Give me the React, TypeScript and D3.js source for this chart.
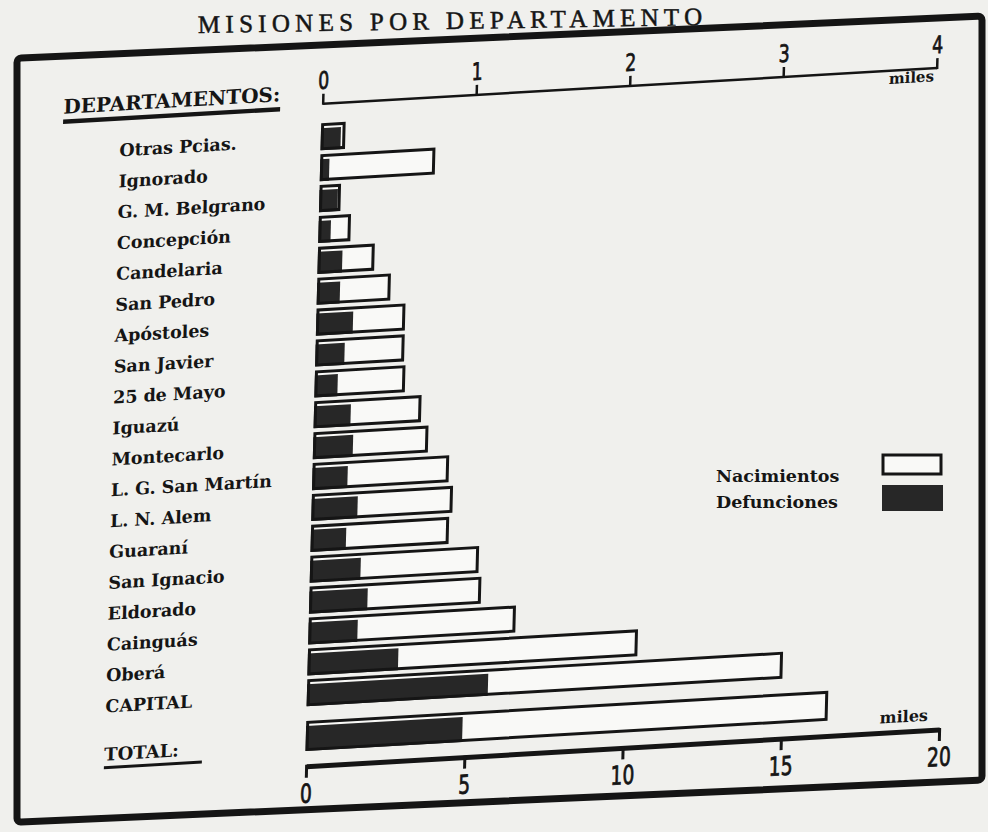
import { useEffect, useRef } from 'react';
import * as d3 from 'd3';

// Departamentos (de arriba hacia abajo) y valores en miles
const departamentos = [
  'Otras Pcias.', 'Ignorado', 'G. M. Belgrano', 'Concepción', 'Candelaria',
  'San Pedro', 'Apóstoles', 'San Javier', '25 de Mayo', 'Iguazú', 'Montecarlo',
  'L. G. San Martín', 'L. N. Alem', 'Guaraní', 'San Ignacio', 'Eldorado',
  'Cainguás', 'Oberá', 'CAPITAL',
];
const nacimientos = [
  0.14, 0.73, 0.12, 0.19, 0.35, 0.46, 0.56, 0.56, 0.57, 0.68, 0.73,
  0.87, 0.9, 0.88, 1.08, 1.1, 1.33, 2.13, 3.08,
];
const defunciones = [
  0.12, 0.05, 0.11, 0.07, 0.15, 0.14, 0.23, 0.18, 0.14, 0.23, 0.25,
  0.22, 0.29, 0.22, 0.32, 0.37, 0.31, 0.58, 1.17,
];
const totalNacimientos = 16.4;
const totalDefunciones = 4.9;

const ticksArriba = [0, 1, 2, 3, 4];
const ticksAbajo = [0, 5, 10, 15, 20];
const leyenda = ['Nacimientos', 'Defunciones'];

export default function App() {
  const svgRef = useRef<SVGSVGElement>(null);

  useEffect(() => {
    if (!svgRef.current) return;
    const width = 988;
    const height = 832;

    const svg = d3.select(svgRef.current);
    svg.selectAll('*').remove();

    const paper = '#f0f0ed';
    const blanco = '#f9f9f7';
    const ink = '#151515';
    const dark = '#272727';
    const serif = '"DejaVu Serif", serif';

    svg.append('rect').attr('width', width).attr('height', height).attr('fill', paper);

    // Título (cortado en la foto)
    svg.append('text')
      .attr('x', 198)
      .attr('y', 33)
      .attr('transform', 'rotate(-0.9 198 33)')
      .attr('font-family', '"Liberation Serif", serif')
      .attr('font-size', 25)
      .attr('letter-spacing', 5.3)
      .attr('fill', ink)
      .attr('stroke', ink)
      .attr('stroke-width', 0.5)
      .text('MISIONES POR DEPARTAMENTO');

    // Marco
    svg.append('g')
      .attr('transform', 'skewY(-2.5)')
      .append('rect')
      .attr('x', 17)
      .attr('y', 59)
      .attr('width', 965)
      .attr('height', 764)
      .attr('rx', 4)
      .attr('fill', 'none')
      .attr('stroke', ink)
      .attr('stroke-width', 7);

    // El gráfico va inclinado como en la foto
    const g = svg.append('g')
      .attr('transform', 'matrix(1,-0.058,-0.025,1,10.5,29)');

    const xTop = d3.scaleLinear().domain([0, 4]).range([315, 929]);
    const xBot = d3.scaleLinear().domain([0, 20]).range([315, 948]);
    const y = d3.scalePoint<string>().domain(departamentos).range([126, 682]);
    const bh = y.step() * 0.78;
    const yTotal = (y('CAPITAL') as number) + y.step() * 1.4;

    // Eje superior (miles)
    const axTopY = 93;
    g.append('line')
      .attr('x1', xTop(0)).attr('x2', xTop(4))
      .attr('y1', axTopY).attr('y2', axTopY)
      .attr('stroke', ink).attr('stroke-width', 2.5);
    g.selectAll('.tickTop')
      .data(ticksArriba)
      .enter()
      .append('line')
      .attr('x1', d => xTop(d)).attr('x2', d => xTop(d))
      .attr('y1', axTopY + 1).attr('y2', axTopY - 10)
      .attr('stroke', ink).attr('stroke-width', 2.5);
    g.selectAll('.lblTop')
      .data(ticksArriba)
      .enter()
      .append('g')
      .attr('transform', d => `translate(${xTop(d)},${axTopY - 15}) scale(0.72,1)`)
      .append('text')
      .attr('text-anchor', 'middle')
      .attr('font-family', '"DejaVu Sans", sans-serif')
      .attr('font-size', 24)
      .attr('fill', ink)
      .attr('stroke', ink)
      .attr('stroke-width', 0.8)
      .text(d => d);
    g.append('text')
      .attr('x', xTop(4) - 3)
      .attr('y', axTopY + 13)
      .attr('text-anchor', 'end')
      .attr('font-family', serif)
      .attr('font-weight', 'bold')
      .attr('font-size', 15)
      .attr('fill', ink)
      .text('miles');

    // Encabezado de la columna
    g.append('text')
      .attr('x', 55)
      .attr('y', 88)
      .attr('font-family', serif)
      .attr('font-weight', 'bold')
      .attr('font-size', 20)
      .attr('fill', ink)
      .text('DEPARTAMENTOS:');
    g.append('line')
      .attr('x1', 55).attr('x2', 272)
      .attr('y1', 96).attr('y2', 96)
      .attr('stroke', ink).attr('stroke-width', 4.5);

    // Etiquetas
    g.selectAll('.dep')
      .data(departamentos)
      .enter()
      .append('text')
      .attr('x', 112)
      .attr('y', d => (y(d) as number) + 8)
      .attr('font-family', serif)
      .attr('font-weight', 'bold')
      .attr('font-size', 17.5)
      .attr('fill', ink)
      .text(d => d);

    // Barras: nacimientos (blanco) y defunciones (negro)
    const drawBar = (cy: number, h: number, x0: number, xN: number, xD: number) => {
      const top = cy - h / 2;
      g.append('rect')
        .attr('x', x0).attr('y', top)
        .attr('width', xN - x0).attr('height', h)
        .attr('fill', blanco);
      g.append('rect')
        .attr('x', x0 - 1.5).attr('y', top + 3.5)
        .attr('width', xD - x0 + 1.5).attr('height', h - 2)
        .attr('fill', dark);
      g.append('rect')
        .attr('x', x0).attr('y', top)
        .attr('width', xN - x0).attr('height', h)
        .attr('fill', 'none')
        .attr('stroke', ink)
        .attr('stroke-width', 3);
    };

    departamentos.forEach((d, i) => {
      drawBar(y(d) as number, bh, xTop(0), xTop(nacimientos[i]), xTop(defunciones[i]));
    });
    drawBar(yTotal, bh + 3, xBot(0), xBot(totalNacimientos), xBot(totalDefunciones));

    g.append('text')
      .attr('x', 112)
      .attr('y', yTotal + 13)
      .attr('font-family', serif)
      .attr('font-weight', 'bold')
      .attr('font-size', 18)
      .attr('fill', ink)
      .text('TOTAL:');
    g.append('line')
      .attr('x1', 112).attr('x2', 210)
      .attr('y1', yTotal + 20).attr('y2', yTotal + 20)
      .attr('stroke', ink).attr('stroke-width', 3);

    // Eje inferior (total, miles)
    const axBotY = 756;
    g.append('line')
      .attr('x1', xBot(0)).attr('x2', xBot(20))
      .attr('y1', axBotY).attr('y2', axBotY)
      .attr('stroke', ink).attr('stroke-width', 5);
    g.selectAll('.tickBot')
      .data(ticksAbajo)
      .enter()
      .append('line')
      .attr('x1', d => xBot(d)).attr('x2', d => xBot(d))
      .attr('y1', axBotY - 2).attr('y2', axBotY + 11)
      .attr('stroke', ink).attr('stroke-width', 3);
    g.selectAll('.lblBot')
      .data(ticksAbajo)
      .enter()
      .append('g')
      .attr('transform', d => `translate(${xBot(d)},${axBotY + 36}) scale(0.72,1)`)
      .append('text')
      .attr('text-anchor', 'middle')
      .attr('font-family', '"DejaVu Sans", sans-serif')
      .attr('font-size', 26)
      .attr('fill', ink)
      .attr('stroke', ink)
      .attr('stroke-width', 0.8)
      .text(d => d);
    g.append('text')
      .attr('x', xBot(20) - 12)
      .attr('y', axBotY - 10)
      .attr('text-anchor', 'end')
      .attr('font-family', serif)
      .attr('font-weight', 'bold')
      .attr('font-size', 16)
      .attr('fill', ink)
      .text('miles');

    // Leyenda
    const leg = svg.append('g');
    leg.selectAll('text')
      .data(leyenda)
      .enter()
      .append('text')
      .attr('x', 716)
      .attr('y', (_, i) => 482 + i * 26)
      .attr('font-family', serif)
      .attr('font-weight', 'bold')
      .attr('font-size', 17.5)
      .attr('fill', ink)
      .text(d => d);
    leg.append('rect')
      .attr('x', 883).attr('y', 455)
      .attr('width', 58).attr('height', 19)
      .attr('fill', blanco)
      .attr('stroke', ink).attr('stroke-width', 3);
    leg.append('rect')
      .attr('x', 882).attr('y', 485)
      .attr('width', 61).attr('height', 26)
      .attr('fill', dark);
  }, []);

  return (
    <svg
      ref={svgRef}
      width={988}
      height={832}
      style={{ display: 'block', position: 'absolute', left: 0, top: 0 }}
    />
  );
}
